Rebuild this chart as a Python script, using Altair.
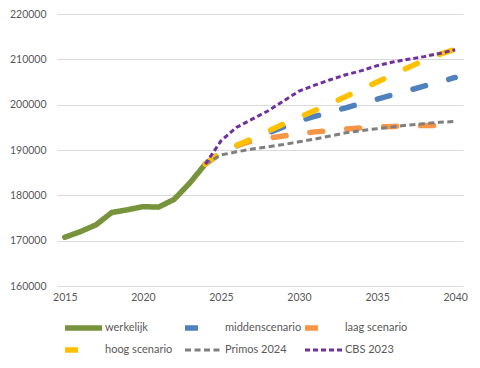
import altair as alt
import pandas as pd

years_hist = [2015, 2016, 2017, 2018, 2019, 2020, 2021, 2022, 2023, 2024]
werkelijk = [170750, 172000, 173500, 176200, 176800, 177500, 177400, 179100, 182700, 186900]

years_proj = list(range(2024, 2041))
midden = [186900, 189500, 190900, 192300, 193700, 195100, 196400, 197400, 198400,
          199300, 200300, 201200, 202200, 203100, 204100, 205000, 206000]
laag = [186900, 189300, 191000, 192000, 192600, 193100, 193600, 194000, 194300,
        194600, 194900, 195100, 195200, 195300, 195400, 195400, 195400]
hoog = [186900, 189500, 191000, 192500, 194100, 195700, 197200, 198700, 200200,
        201800, 203400, 205000, 206600, 208200, 209800, 211100, 212200]
primos = [186900, 188900, 189600, 190200, 190700, 191200, 191800, 192400, 193100,
          193800, 194300, 194700, 195100, 195500, 195800, 196100, 196300]
cbs = [186900, 192000, 195000, 196800, 198600, 200800, 203000, 204300, 205500,
       206600, 207500, 208600, 209400, 210000, 210600, 211300, 212100]

series_names = ["werkelijk", "middenscenario", "laag scenario", "hoog scenario", "Primos 2024", "CBS 2023"]
colors = ["#77933C", "#4F81BD", "#F79646", "#FFC000", "#7F7F7F", "#7030A0"]
dashes = [[1, 0], [13, 24], [13, 24], [13, 24], [6, 3.5], [5, 3]]
widths = [5.5, 5.5, 5.5, 5.5, 3, 3]
x_ticks = [2015, 2020, 2025, 2030, 2035, 2040]
y_ticks = [160000, 170000, 180000, 190000, 200000, 210000, 220000]

rows = []
for y, v in zip(years_hist, werkelijk):
    rows.append({"jaar": y, "waarde": v, "serie": "werkelijk"})
for name, vals in zip(series_names[1:], [midden, laag, hoog, primos, cbs]):
    for y, v in zip(years_proj, vals):
        rows.append({"jaar": y, "waarde": v, "serie": name})
df = pd.DataFrame(rows)

FONT = "Lato"
TXT = "#595959"


def leg():
    return alt.Legend(title=None, orient="none", legendX=5, legendY=307, direction="horizontal",
                      columns=3, symbolType="stroke", symbolSize=1369, clipHeight=14,
                      gridAlign="all", columnPadding=0, rowPadding=8,
                      labelOffset=0, labelFont=FONT, labelFontSize=11,
                      labelColor=TXT, labelLimit=200)


base = alt.Chart(df).encode(
    x=alt.X("jaar:Q", scale=alt.Scale(domain=[2014.5, 2040.5], nice=False, zero=False),
            axis=alt.Axis(values=x_ticks, format="d", title=None, grid=False, domain=False,
                          ticks=False, labelPadding=6)),
    y=alt.Y("waarde:Q", scale=alt.Scale(domain=[160000, 220000], nice=False, zero=False),
            axis=alt.Axis(values=y_ticks, format="d", title=None, domain=False, ticks=False,
                          labelPadding=11, gridColor="#D9D9D9", gridWidth=1)),
    color=alt.Color("serie:N", scale=alt.Scale(domain=series_names, range=colors), legend=leg()),
    strokeDash=alt.StrokeDash("serie:N", scale=alt.Scale(domain=series_names, range=dashes),
                              legend=leg()),
    strokeWidth=alt.StrokeWidth("serie:N", scale=alt.Scale(type="ordinal", domain=series_names,
                                                           range=widths),
                                legend=leg()),
)

layers = []
for name in series_names:
    cap = "round" if name in series_names[:4] else "butt"
    layers.append(base.transform_filter(alt.datum.serie == name)
                  .mark_line(strokeCap=cap, strokeJoin="round"))

chart = alt.layer(*layers).properties(
    width=406, height=272,
    autosize=alt.AutoSizeParams(type="none"),
    padding={"left": 49, "top": 6, "right": 9, "bottom": 74},
).configure_view(stroke=None).configure_axis(
    labelFont=FONT, labelFontSize=10.5, labelColor=TXT
)

chart.save("out.html", embed_options={"renderer": "svg", "actions": False})
